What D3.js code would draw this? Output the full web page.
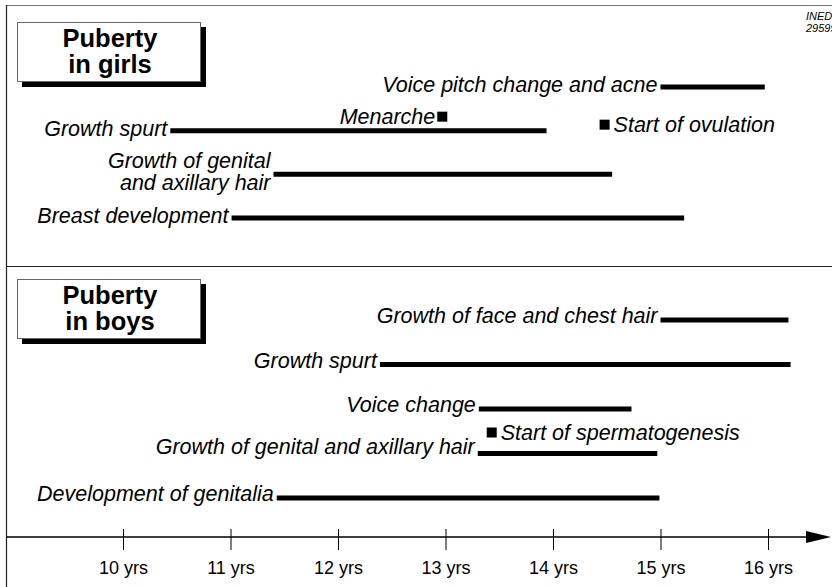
<!DOCTYPE html>
<html><head><meta charset="utf-8">
<script src="https://cdn.jsdelivr.net/npm/d3@7"></script>
<style>
html,body{margin:0;padding:0;background:#fff;}
svg{display:block;}
text{font-family:"Liberation Sans",Arial,Helvetica,sans-serif;fill:#000;}
</style></head>
<body>
<script>
// ---- data ----
const tickAges = [10, 11, 12, 13, 14, 15, 16];
const tickLabels = ["10 yrs", "11 yrs", "12 yrs", "13 yrs", "14 yrs", "15 yrs", "16 yrs"];

const girlsLabels = ["Voice pitch change and acne", "Growth spurt", "Growth of genital\nand axillary hair", "Breast development"];
const girlsStart  = [15.0, 10.44, 11.40, 11.01];
const girlsEnd    = [15.97, 13.94, 14.55, 15.22];

const boysLabels = ["Growth of face and chest hair", "Growth spurt", "Voice change", "Growth of genital and axillary hair", "Development of genitalia"];
const boysStart  = [15.0, 12.39, 13.31, 13.30, 11.43];
const boysEnd    = [16.19, 16.21, 14.73, 14.97, 14.99];

const girlsEvents = ["Menarche", "Start of ovulation"];
const girlsEventAge = [12.97, 14.48];
const boysEvents = ["Start of spermatogenesis"];
const boysEventAge = [13.43];

// ---- layout ----
const W = 832, H = 587;
const svg = d3.select("body").append("svg").attr("width", W).attr("height", H);
const x = d3.scaleLinear().domain([10, 16]).range([123, 768]);

const yG = d3.scalePoint().domain(d3.range(girlsLabels.length)).range([87, 218]);
const yB = d3.scalePoint().domain(d3.range(boysLabels.length)).range([320, 498]);
const FS = 21.5;

// frame
svg.append("line").attr("x1", 6).attr("x2", W).attr("y1", 5.5).attr("y2", 5.5).attr("stroke", "#777").attr("stroke-width", 1.2);
svg.append("line").attr("x1", 6.5).attr("x2", 6.5).attr("y1", 5).attr("y2", H).attr("stroke", "#222").attr("stroke-width", 1.2);
svg.append("line").attr("x1", 6).attr("x2", W).attr("y1", 266.5).attr("y2", 266.5).attr("stroke", "#222").attr("stroke-width", 1.2);

// INED
svg.append("text").attr("x", 806).attr("y", 20).attr("font-size", 11).attr("font-style", "italic").text("INED");
svg.append("text").attr("x", 806).attr("y", 32).attr("font-size", 11).attr("font-style", "italic").text("29599");

// title boxes
function titleBox(y0, l1, l2) {
  const g = svg.append("g");
  g.append("rect").attr("x", 22).attr("y", y0 + 5).attr("width", 184).attr("height", 60).attr("fill", "#000");
  g.append("rect").attr("x", 17.5).attr("y", y0 + 0.5).attr("width", 183).attr("height", 59).attr("fill", "#fff").attr("stroke", "#666").attr("stroke-width", 1);
  g.append("text").attr("x", 110).attr("y", y0 + 25).attr("text-anchor", "middle").attr("font-size", 25.5).attr("font-weight", "bold").text(l1);
  g.append("text").attr("x", 110).attr("y", y0 + 51).attr("text-anchor", "middle").attr("font-size", 25.5).attr("font-weight", "bold").text(l2);
}
titleBox(22, "Puberty", "in girls");
titleBox(279, "Puberty", "in boys");

// bars
function drawBars(labels, starts, ends, yScale, dys) {
  const g = svg.append("g");
  labels.forEach((lab, i) => {
    const yy = yScale(i);
    g.append("line")
      .attr("x1", x(starts[i])).attr("x2", x(ends[i]))
      .attr("y1", yy).attr("y2", yy)
      .attr("stroke", "#000").attr("stroke-width", 5);
    const lines = lab.split("\n");
    const t = g.append("text")
      .attr("text-anchor", "end")
      .attr("font-style", "italic")
      .attr("font-size", FS);
    lines.forEach((ln, k) => {
      t.append("tspan").attr("x", x(starts[i]) - 3)
        .attr("y", yy + dys[i] + k * 22 - (lines.length - 1) * 6)
        .text(ln);
    });
  });
}
drawBars(girlsLabels, girlsStart, girlsEnd, yG, [5, 5, 0, 5]);
drawBars(boysLabels, boysStart, boysEnd, yB, [3, 3, 3, 0, 3]);

// event markers
const sq = 10;
function marker(age, yc, label, side) {
  svg.append("rect").attr("x", x(age) - sq / 2).attr("y", yc - sq / 2).attr("width", sq).attr("height", sq).attr("fill", "#000");
  const t = svg.append("text").attr("font-style", "italic").attr("font-size", FS).attr("y", yc + 7).text(label);
  if (side === "left") t.attr("x", x(age) - sq / 2 - 2).attr("text-anchor", "end");
  else t.attr("x", x(age) + sq / 2 + 4).attr("text-anchor", "start");
}
marker(girlsEventAge[0], yG(1) - 14, girlsEvents[0], "left");
marker(girlsEventAge[1], yG(1) - 6, girlsEvents[1], "right");
marker(boysEventAge[0], yB(3) - 21, boysEvents[0], "right");

// axis
const axisY = 537;
svg.append("line").attr("x1", 6).attr("x2", 812).attr("y1", axisY).attr("y2", axisY).attr("stroke", "#000").attr("stroke-width", 1.3);
svg.append("path").attr("d", `M806,${axisY - 6}L831,${axisY}L806,${axisY + 6}Z`).attr("fill", "#000");
const axis = d3.axisBottom(x).tickValues(tickAges).tickFormat((d, i) => tickLabels[i]).tickSize(0).tickPadding(0);
const ag = svg.append("g").attr("transform", `translate(0,${axisY})`).call(axis);
ag.select(".domain").remove();
ag.selectAll(".tick line").attr("y1", -8).attr("y2", 13).attr("stroke", "#000").attr("stroke-width", 1);
ag.selectAll(".tick text").attr("y", 37).attr("dy", 0).attr("font-size", 18)
  .attr("font-family", "'Liberation Sans',Arial,sans-serif").attr("fill", "#000");
</script>
</body></html>
